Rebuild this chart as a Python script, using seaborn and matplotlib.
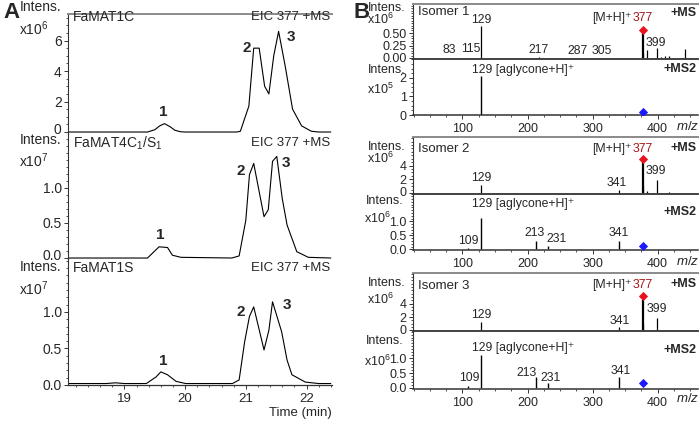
import numpy as np
import pandas as pd
import seaborn as sns
import matplotlib
matplotlib.use("Agg")
import matplotlib.pyplot as plt
from matplotlib.ticker import MultipleLocator, FixedLocator, FormatStrFormatter
from matplotlib.transforms import ScaledTranslation

# ---------------- data ----------------
# Panel A: extracted ion chromatograms (EIC 377)
t_a1 = [18.07, 19.38, 19.50, 19.58, 19.66, 19.75, 19.83, 19.92, 20.00, 20.85, 20.91, 21.05, 21.13, 21.22,
        21.31, 21.38, 21.46, 21.54, 21.65, 21.77, 21.92, 22.08, 22.20, 22.40]
i_a1 = [0.0, 0.0, 0.15, 0.40, 0.55, 0.35, 0.12, 0.02, 0.0, 0.0, 0.05, 1.7, 5.5, 5.5,
        3.0, 2.5, 5.0, 6.6, 4.3, 1.5, 0.4, 0.05, 0.0, 0.0]          # x10^6
t_a2 = [18.07, 19.38, 19.57, 19.71, 19.79, 19.93, 20.77, 20.89, 21.00, 21.06, 21.13, 21.30, 21.37,
        21.44, 21.51, 21.60, 21.68, 21.84, 22.03, 22.40]
i_a2 = [0.0, 0.0, 0.16, 0.15, 0.04, 0.01, 0.0, 0.03, 0.54, 1.19, 1.35, 0.59, 0.69,
        1.38, 1.45, 0.85, 0.47, 0.09, 0.01, 0.0]                   # x10^7
t_a3 = [18.07, 18.70, 18.85, 19.00, 19.36, 19.52, 19.60, 19.71, 19.85, 20.01, 20.78, 20.89, 20.98,
        21.06, 21.13, 21.30, 21.38, 21.44, 21.59, 21.68, 21.76, 21.98, 22.20, 22.40]
i_a3 = [0.02, 0.02, 0.03, 0.02, 0.02, 0.11, 0.18, 0.14, 0.05, 0.02, 0.02, 0.07, 0.59,
        0.94, 1.07, 0.48, 0.75, 1.14, 0.73, 0.34, 0.14, 0.04, 0.02, 0.02]  # x10^7
a_names = ["FaMAT1C", "FaMAT4C$_1$/S$_1$", "FaMAT1S"]
a_time_ticks = [19, 20, 21, 22]

# Panel B: mass spectra
mz_b1_ms = [83, 115, 129, 217, 287, 305, 377, 378, 383, 399, 405, 411, 418, 442]
in_b1_ms = [0.01, 0.01, 0.64, 0.02, 0.01, 0.01, 0.50, 0.10, 0.16, 0.20, 0.03, 0.05, 0.04, 0.18]   # x10^6
mz_b1_ms2 = [129]
in_b1_ms2 = [2.1]                                                   # x10^5
mz_b2_ms = [129, 341, 377, 378, 383, 399, 417]
in_b2_ms = [1.2, 0.45, 4.6, 1.0, 0.3, 1.9, 0.1]                     # x10^6
mz_b2_ms2 = [109, 129, 213, 231, 341]
in_b2_ms2 = [0.06, 1.13, 0.30, 0.12, 0.30]                          # x10^6
mz_b3_ms = [129, 341, 377, 378, 399]
in_b3_ms = [1.3, 0.5, 4.5, 1.0, 1.8]                                # x10^6
mz_b3_ms2 = [109, 129, 213, 231, 341]
in_b3_ms2 = [0.05, 1.1, 0.36, 0.18, 0.36]                           # x10^6
precursor_mz = 377
prec_ms_y = [0.57, 5.0, 5.2]
prec_ms2_y = [0.18, 0.14, 0.15]

# ---------------- style ----------------
sns.set_style("ticks")
plt.rcParams["font.family"] = ["Liberation Sans", "DejaVu Sans"]
plt.rcParams["mathtext.fontset"] = "custom"
plt.rcParams["mathtext.rm"] = "Liberation Sans"
plt.rcParams["mathtext.it"] = "Liberation Sans:italic"

W, H = 700, 421
fig = plt.figure(figsize=(7.0, 4.21), dpi=100)
SP = "#333333"
GRAY = "#8a8a8a"
RED = "#e8141b"
DRED = "#a3161a"
BLUE = "#1a1aff"


def add_ax(x0, y0, x1, y1):
    return fig.add_axes([x0 / W, 1 - y1 / H, (x1 - x0) / W, (y1 - y0) / H])


def ftext(x, y, s, **kw):
    kw.setdefault("va", "center")
    fig.text(x / W, 1 - y / H, s, **kw)


def lift_first_ylabel(ax, px):
    fig.canvas.draw()
    labels = ax.get_yticklabels()
    if labels:
        lb = labels[0]
        lb.set_transform(lb.get_transform() + ScaledTranslation(0, px / 100, fig.dpi_scale_trans))


def style(ax, top=False, bottom=False, xticks=False):
    ax.spines["right"].set_visible(False)
    ax.spines["top"].set_visible(top)
    if top:
        ax.spines["top"].set_color(GRAY)
        ax.spines["top"].set_linewidth(1.4)
    ax.spines["bottom"].set_visible(bottom)
    ax.spines["bottom"].set_color(SP)
    ax.spines["left"].set_color(SP)
    ax.spines["left"].set_linewidth(0.8)
    ax.tick_params(axis="y", direction="out", length=3, width=0.7, color=SP, pad=1.5)
    ax.tick_params(axis="y", which="minor", direction="out", length=1.6, width=0.6, color=SP)
    if xticks:
        ax.tick_params(axis="x", direction="out", length=3, width=0.7, color=SP, pad=3)
        ax.tick_params(axis="x", which="minor", direction="out", length=1.6, width=0.6, color=SP)
    else:
        ax.tick_params(axis="x", which="both", bottom=False, labelbottom=False)
    ax.set_xlabel("")
    ax.set_ylabel("")
    ax.patch.set_alpha(0)


# ---------------- Panel A ----------------
a_boxes = [(68, 14, 332, 134), (68, 134, 332, 259), (68, 259, 332, 385)]
a_ylims = [(-0.13, 7.74), (-0.014, 1.77), (0.0, 1.726)]
a_ticks = [[0, 2, 4, 6], [0.0, 0.5, 1.0], [0.0, 0.5, 1.0]]
a_fmt = ["%d", "%.1f", "%.1f"]
a_minor = [0.5, 0.1, 0.1]
a_data = [(t_a1, i_a1), (t_a2, i_a2), (t_a3, i_a3)]
a_axes = []
for k in range(3):
    ax = add_ax(*a_boxes[k])
    df = pd.DataFrame({"t": a_data[k][0], "i": a_data[k][1]})
    sns.lineplot(data=df, x="t", y="i", ax=ax, color="black", lw=0.8)
    ax.set_xlim(18.07, 22.42)
    ax.set_ylim(*a_ylims[k])
    ax.yaxis.set_major_locator(FixedLocator(a_ticks[k]))
    ax.yaxis.set_major_formatter(FormatStrFormatter(a_fmt[k]))
    ax.yaxis.set_minor_locator(MultipleLocator(a_minor[k]))
    style(ax, top=(k == 0), bottom=(k == 2), xticks=(k == 2))
    ax.tick_params(axis="y", labelsize=10)
    if k == 2:
        ax.xaxis.set_major_locator(FixedLocator(a_time_ticks))
        ax.xaxis.set_minor_locator(MultipleLocator(0.2))
        ax.tick_params(axis="x", labelsize=9.5)
        ax.spines["bottom"].set_linewidth(0.9)
    a_axes.append(ax)

# panel A texts
ftext(3, 13, "A", fontsize=16, fontweight="bold")
for (yI, yX, nm, yN, sc) in [(7, 29, a_names[0], 17, "6"), (140, 161, a_names[1], 143, "7"),
                             (267, 289, a_names[2], 268, "7")]:
    ftext(20, yI, "Intens.", fontsize=10)
    ftext(19, yX, "x10$^{%s}$" % sc, fontsize=10)
    ftext(73, yN, nm, fontsize=10)
    ftext(330, yN, "EIC 377 +MS", fontsize=9.5, ha="right")
for (x, y, s) in [(163, 112, "1"), (247, 48, "2"), (291, 37, "3"),
                  (160, 235, "1"), (241, 171, "2"), (286, 163, "3"),
                  (163, 361, "1"), (241, 312, "2"), (287, 305, "3")]:
    ftext(x, y, s, fontsize=11, fontweight="bold", ha="center")
ftext(332, 413, "Time (min)", fontsize=9.5, ha="right")

# ---------------- Panel B ----------------
XL = (24, 462)
groups = [
    dict(ms=(413, 4, 698, 58.5), ms2=(413, 58.5, 698, 115),
         ms_ylim=(-0.01, 1.08), ms_ticks=[0, 0.25, 0.5], ms_fmt="%.2f", ms_minor=0.05,
         ms2_ylim=(0, 3.05), ms2_ticks=[0, 1, 2], ms2_fmt="%d", ms2_minor=0.25,
         ms_data=(mz_b1_ms, in_b1_ms), ms2_data=(mz_b1_ms2, in_b1_ms2)),
    dict(ms=(413, 137, 698, 193.5), ms2=(413, 193.5, 698, 250),
         ms_ylim=(-0.07, 8.16), ms_ticks=[0, 2, 4], ms_fmt="%d", ms_minor=0.5,
         ms2_ylim=(-0.02, 2.0), ms2_ticks=[0, 0.5, 1.0], ms2_fmt="%.1f", ms2_minor=0.1,
         ms_data=(mz_b2_ms, in_b2_ms), ms2_data=(mz_b2_ms2, in_b2_ms2)),
    dict(ms=(413, 273, 698, 331), ms2=(413, 331, 698, 388.5),
         ms_ylim=(-0.075, 8.58), ms_ticks=[0, 2, 4], ms_fmt="%d", ms_minor=0.5,
         ms2_ylim=(-0.02, 1.92), ms2_ticks=[0, 0.5, 1.0], ms2_fmt="%.1f", ms2_minor=0.1,
         ms_data=(mz_b3_ms, in_b3_ms), ms2_data=(mz_b3_ms2, in_b3_ms2)),
]

ms_axes, ms2_axes = [], []
for g_i, g in enumerate(groups):
    ax1 = add_ax(*g["ms"])
    mz, it = g["ms_data"]
    lw = [1.6 if m == precursor_mz else 0.9 for m in mz]
    ax1.vlines(mz, 0, it, colors="black", linewidths=lw)
    sns.scatterplot(x=[precursor_mz], y=[prec_ms_y[g_i]], ax=ax1, marker="D", s=22,
                    color=RED, linewidth=0, zorder=5)
    ax1.set_xlim(*XL)
    ax1.set_ylim(*g["ms_ylim"])
    ax1.yaxis.set_major_locator(FixedLocator(g["ms_ticks"]))
    ax1.yaxis.set_major_formatter(FormatStrFormatter(g["ms_fmt"]))
    ax1.yaxis.set_minor_locator(MultipleLocator(g["ms_minor"]))
    style(ax1, top=True, bottom=True, xticks=False)
    ax1.spines["bottom"].set_linewidth(1.3)
    ax1.tick_params(axis="y", labelsize=9)

    ax2 = add_ax(*g["ms2"])
    mz, it = g["ms2_data"]
    ax2.vlines(mz, 0, it, colors="black", linewidths=1.0)
    sns.scatterplot(x=[precursor_mz], y=[prec_ms2_y[g_i]], ax=ax2, marker="D", s=22,
                    color=BLUE, linewidth=0, zorder=5)
    ax2.set_xlim(*XL)
    ax2.set_ylim(*g["ms2_ylim"])
    ax2.yaxis.set_major_locator(FixedLocator(g["ms2_ticks"]))
    ax2.yaxis.set_major_formatter(FormatStrFormatter(g["ms2_fmt"]))
    ax2.yaxis.set_minor_locator(MultipleLocator(g["ms2_minor"]))
    style(ax2, top=False, bottom=True, xticks=True)
    ax2.spines["bottom"].set_linewidth(1.1)
    ax2.xaxis.set_major_locator(FixedLocator([100, 200, 300, 400]))
    ax2.xaxis.set_minor_locator(MultipleLocator(25))
    ax2.tick_params(axis="x", labelsize=9)
    ax2.tick_params(axis="y", labelsize=9)
    ms_axes.append(ax1)
    ms2_axes.append(ax2)


def lab(ax, mz, val, s, dx, dy, **kw):
    kw.setdefault("ha", "center")
    kw.setdefault("fontsize", 8.8)
    ax.annotate(s, xy=(mz, val), xytext=(dx, dy), textcoords="offset pixels",
                va="center", annotation_clip=False, **kw)


# group 1 labels
a = ms_axes[0]
lab(a, 129, 0.64, "129", 0, 6)
lab(a, 83, 0.01, "83", -2, 7.5)
lab(a, 115, 0.01, "115", -1, 8)
lab(a, 217, 0.02, "217", 0, 7)
lab(a, 287, 0.01, "287", -7, 6.5)
lab(a, 305, 0.01, "305", 6, 6)
lab(a, 377, 0.50, "377", 0, 15, color=DRED)
lab(a, 377, 0.50, "[M+H]⁺", -11, 15, ha="right")
lab(a, 399, 0.20, "399", -1, 5.5)
a = ms2_axes[0]
lab(a, 129, 2.1, "129 [aglycone+H]⁺", -9, 6, ha="left")
# group 2 labels
a = ms_axes[1]
lab(a, 129, 1.2, "129", 0, 7)
lab(a, 341, 0.45, "341", -2.5, 7)
lab(a, 377, 4.6, "377", 0, 12.5, color=DRED)
lab(a, 377, 4.6, "[M+H]⁺", -11, 12.5, ha="right")
lab(a, 399, 1.9, "399", -1, 9)
a = ms2_axes[1]
lab(a, 129, 1.13, "129 [aglycone+H]⁺", -9.5, 14, ha="left")
lab(a, 109, 0.06, "109", 0.5, 6.6)
lab(a, 213, 0.30, "213", -1, 7.6)
lab(a, 231, 0.12, "231", 9, 6.6)
lab(a, 341, 0.30, "341", -1, 7.6)
# group 3 labels
a = ms_axes[2]
lab(a, 129, 1.3, "129", 0, 6.8)
lab(a, 341, 0.5, "341", 0, 6.4)
lab(a, 377, 4.5, "377", 0, 15, color=DRED)
lab(a, 377, 4.5, "[M+H]⁺", -11, 15, ha="right")
lab(a, 399, 1.8, "399", 0, 9)
a = ms2_axes[2]
lab(a, 129, 1.1, "129 [aglycone+H]⁺", -9.5, 7.5, ha="left")
lab(a, 109, 0.05, "109", 1, 8.7)
lab(a, 213, 0.36, "213", -9, 4)
lab(a, 231, 0.18, "231", 3, 5)
lab(a, 341, 0.36, "341", 1, 6)

# panel B texts
ftext(354, 13, "B", fontsize=16, fontweight="bold")
for (xI, yI, xX, yX, sc) in [(368, 8, 367, 19, "6"), (368, 70, 367, 89, "5"),
                             (368, 146.5, 367, 158.5, "6"), (366, 201, 364, 218, "6"),
                             (368, 282.5, 367, 299, "6"), (366, 341, 364, 361, "6")]:
    ftext(xI, yI, "Intens.", fontsize=9)
    ftext(xX, yX, "x10$^{%s}$" % sc, fontsize=9)
for (y, s) in [(12, "Isomer 1"), (148.5, "Isomer 2"), (286, "Isomer 3")]:
    ftext(418, y, s, fontsize=9.5)
for y in [13, 148, 284]:
    ftext(697, y, "+MS", fontsize=9, fontweight="bold", ha="right")
for y in [69.5, 212, 350]:
    ftext(697, y, "+MS2", fontsize=9, fontweight="bold", ha="right")
for y in [127, 261.5, 398.5]:
    ftext(688, y, "$m/z$", fontsize=9.5, ha="center")

# lift the zero tick labels that sit on the panel joins, as in the reference
lift_first_ylabel(a_axes[0], 4)
lift_first_ylabel(a_axes[1], 4)
lift_first_ylabel(ms_axes[1], 2)
lift_first_ylabel(ms_axes[2], 1)

fig.savefig("out.png", dpi=100)
